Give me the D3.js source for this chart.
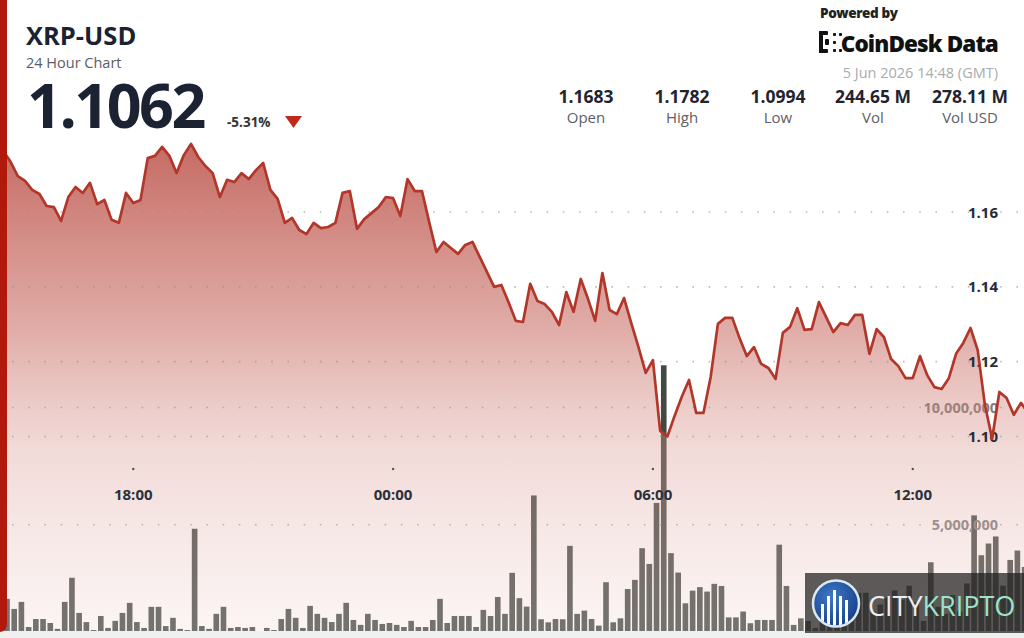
<!DOCTYPE html>
<html><head><meta charset="utf-8">
<script src="https://cdn.jsdelivr.net/npm/d3@7"></script>
<style>
html,body{margin:0;padding:0;background:#fff;overflow:hidden}
svg{display:block;font-family:"Open Sans",sans-serif}
</style></head><body>
<svg id="c" width="1024" height="638"></svg>
<script>
// ---------- DATA ----------
const pair = "XRP-USD";
const subtitle = "24 Hour Chart";
const lastPrice = "1.1062";
const changePct = "-5.31%";
const stampText = "5 Jun 2026 14:48 (GMT)";
const statValues = ["1.1683", "1.1782", "1.0994", "244.65 M", "278.11 M"];
const statLabels = ["Open", "High", "Low", "Vol", "Vol USD"];
const windowStart = "2026-06-04T14:48:00Z";
const windowEnd = "2026-06-05T14:48:00Z";
const firstPointTime = "2026-06-04T14:50:00Z";
const stepMinutes = 10;
const timeTicks = ["2026-06-04T18:00:00Z", "2026-06-05T00:00:00Z", "2026-06-05T06:00:00Z", "2026-06-05T12:00:00Z"];
const priceTicks = [1.10, 1.12, 1.14, 1.16];
const volumeTicksM = [5, 10];
const prices = [
1.1776,1.1763,1.1734,1.1696,1.1683,1.1659,1.1648,1.1616,1.1613,1.1576,
1.1640,1.1667,1.1651,1.1678,1.1621,1.1632,1.1579,1.1571,1.1651,1.1624,
1.1632,1.1744,1.1750,1.1774,1.1750,1.1704,1.1752,1.1782,1.1747,1.1723,
1.1704,1.1640,1.1686,1.1680,1.1704,1.1688,1.1712,1.1731,1.1659,1.1635,
1.1571,1.1584,1.1552,1.1541,1.1571,1.1557,1.1560,1.1571,1.1651,1.1656,
1.1555,1.1581,1.1597,1.1613,1.1640,1.1637,1.1589,1.1688,1.1656,1.1656,
1.1573,1.1493,1.1520,1.1504,1.1488,1.1512,1.1520,1.1480,1.1440,1.1400,
1.1405,1.1359,1.1309,1.1306,1.1408,1.1362,1.1354,1.1333,1.1298,1.1386,
1.1333,1.1421,1.1368,1.1309,1.1437,1.1338,1.1327,1.1370,1.1303,1.1239,
1.1170,1.1204,1.1015,1.1000,1.1055,1.1106,1.1151,1.1063,1.1063,1.1159,
1.1301,1.1317,1.1317,1.1263,1.1215,1.1239,1.1194,1.1183,1.1154,1.1277,
1.1293,1.1343,1.1285,1.1287,1.1359,1.1319,1.1279,1.1303,1.1298,1.1325,
1.1325,1.1221,1.1287,1.1266,1.1207,1.1188,1.1156,1.1156,1.1215,1.1164,
1.1132,1.1127,1.1156,1.1221,1.1250,1.1290,1.1231,1.1084,1.0994,1.1119,
1.1103,1.1058,1.1090,1.1062];
const volumeMillions = [
1.50,1.84,1.41,1.71,0.64,0.98,0.98,0.81,0.56,1.71,
2.74,1.24,0.85,0.51,1.11,0.60,0.90,1.24,1.67,0.85,
0.60,1.50,1.50,0.68,1.03,0.56,0.51,4.83,0.68,0.56,
1.20,1.50,0.60,0.64,0.60,0.64,0.30,0.60,0.51,0.98,
1.41,1.03,0.60,1.54,1.20,1.03,0.85,1.20,1.67,0.94,
0.73,1.20,0.94,0.77,0.81,0.73,0.64,0.90,0.64,0.64,
0.94,1.84,0.81,1.11,1.11,1.11,0.64,1.37,1.11,1.92,
1.20,2.95,1.87,1.51,6.25,0.97,0.84,0.98,0.97,4.10,
1.20,1.34,0.98,0.70,2.55,0.84,1.01,2.26,2.65,4.00,
3.33,5.93,11.80,3.79,2.96,1.65,2.19,2.34,2.15,2.48,
2.39,1.05,1.05,1.30,0.80,0.94,0.94,0.94,4.15,2.39,
0.73,1.01,0.90,0.60,1.20,0.80,1.00,0.70,1.50,2.10,
2.10,1.30,1.60,1.90,2.20,1.80,2.40,1.70,0.90,3.40,
1.50,1.20,2.00,1.30,2.50,5.40,3.70,4.20,4.50,2.40,
3.50,3.90,3.20,2.80];

// ---------- SETUP ----------
const svg = d3.select("#c");
const defs = svg.append("defs");
const stepMs = stepMinutes * 60000;
const t0 = new Date(firstPointTime).getTime();
const times = prices.map((_, i) => new Date(t0 + i * stepMs));

const x = d3.scaleUtc().domain([new Date(windowStart), new Date(windowEnd)]).range([-5.3, 1034]);
const yP = d3.scaleLinear().domain([1.10, 1.16]).range([436.5, 212]);
const yV = d3.scaleLinear().domain([0, 10]).range([642, 407.5]);

svg.append("rect").attr("width", 1024).attr("height", 638).attr("fill", "#fff");

defs.append("clipPath").attr("id", "plot").append("rect")
  .attr("x", 0).attr("y", 0).attr("width", 1024).attr("height", 631);

const grad = defs.append("linearGradient").attr("id", "areaGrad")
  .attr("gradientUnits", "userSpaceOnUse").attr("x1", 0).attr("y1", 140).attr("x2", 0).attr("y2", 642);
[[0, "#b5443a", 0.80], [0.38, "#c25a50", 0.50], [0.62, "#d99890", 0.35], [1, "#f4e0dd", 0.28]]
  .forEach(s => grad.append("stop").attr("offset", s[0]).attr("stop-color", s[1]).attr("stop-opacity", s[2]));

const plot = svg.append("g").attr("clip-path", "url(#plot)");

// volume bars
plot.append("g").selectAll("rect").data(volumeMillions).join("rect")
  .attr("x", (d, i) => x(new Date(t0 + i * stepMs)) + 0.8)
  .attr("width", (d, i) => x(new Date(t0 + (i + 1) * stepMs)) - x(new Date(t0 + i * stepMs)) - 1.6)
  .attr("y", d => yV(d))
  .attr("height", d => yV(0) - yV(d))
  .attr("fill", "#414944");

// volume labels
const fmtVol = d3.format(",");
plot.append("g").selectAll("text").data(volumeTicksM).join("text")
  .attr("x", 998).attr("y", d => yV(d) + 5)
  .attr("text-anchor", "end").attr("font-size", 14.5).attr("font-weight", 700)
  .attr("fill", "#7d7d7d").text(d => fmtVol(d * 1e6));

// price area
const area = d3.area().x((d, i) => x(times[i])).y0(642).y1(d => yP(d));
plot.append("path").datum(prices).attr("d", area).attr("fill", "url(#areaGrad)");

// dotted gridlines
const gridVals = priceTicks.map(v => yP(v)).concat(volumeTicksM.map(v => yV(v)));
plot.append("g").selectAll("line").data(gridVals).join("line")
  .attr("x1", 12).attr("x2", 1024).attr("y1", d => d).attr("y2", d => d)
  .attr("stroke", "#8f8f8f").attr("stroke-opacity", 0.6).attr("stroke-width", 1.6)
  .attr("stroke-dasharray", "1.6 14.6");

// price labels
plot.append("g").selectAll("text").data(priceTicks).join("text")
  .attr("x", 998).attr("y", d => yP(d) + 5.5)
  .attr("text-anchor", "end").attr("font-size", 15).attr("font-weight", 700)
  .attr("fill", "#262c38").text(d => d3.format(".2f")(d));

// price line
const line = d3.line().x((d, i) => x(times[i])).y(d => yP(d));
plot.append("path").datum(prices).attr("d", line)
  .attr("fill", "none").attr("stroke", "#b2372a").attr("stroke-width", 2.7)
  .attr("stroke-linejoin", "round");

// time axis
const tickDates = timeTicks.map(s => new Date(s));
const fmtT = d3.utcFormat("%H:%M");
const xAxis = svg.append("g");
xAxis.selectAll("circle").data(tickDates).join("circle")
  .attr("cx", d => x(d)).attr("cy", 469).attr("r", 1.2).attr("fill", "#555");
xAxis.selectAll("text").data(tickDates).join("text")
  .attr("x", d => x(d)).attr("y", 499.5).attr("text-anchor", "middle")
  .attr("font-size", 15).attr("font-weight", 700).attr("fill", "#2a303c")
  .text(d => fmtT(d));

// bottom strip & left red edge
svg.append("rect").attr("x", 0).attr("y", 631).attr("width", 1024).attr("height", 7).attr("fill", "#eef1f0");
svg.append("path").attr("d", "M0,0 H7 V624 Q7,631 0,632 Z").attr("fill", "#b0190c");

// ---------- HEADER ----------
const hdr = svg.append("g");
hdr.append("text").attr("x", 26).attr("y", 44.5).attr("font-size", 25.5).attr("font-weight", 700)
  .attr("fill", "#1b2232").text(pair);
hdr.append("text").attr("x", 26).attr("y", 67.5).attr("font-size", 14.5).attr("fill", "#5a5d63").text(subtitle);
hdr.append("text").attr("x", 27).attr("y", 127.5).attr("font-size", 61).attr("font-weight", 700)
  .attr("letter-spacing", -2.5).attr("fill", "#1b2232").text(lastPrice);
hdr.append("text").attr("x", 227).attr("y", 126.5).attr("font-size", 13.5).attr("font-weight", 700)
  .attr("fill", "#333").text(changePct);
hdr.append("path").attr("d", "M285,116 L302,116 L293.5,128 Z").attr("fill", "#c0281a");

const statX = [586, 682, 778, 873, 970];
hdr.append("g").selectAll("text").data(statValues).join("text")
  .attr("x", (d, i) => statX[i]).attr("y", 103).attr("text-anchor", "middle")
  .attr("font-size", 17.5).attr("font-weight", 700).attr("fill", "#1f2430").text(d => d);
hdr.append("g").selectAll("text").data(statLabels).join("text")
  .attr("x", (d, i) => statX[i]).attr("y", 123).attr("text-anchor", "middle")
  .attr("font-size", 15).attr("fill", "#5d6066").text(d => d);

hdr.append("text").attr("x", 820).attr("y", 18).attr("font-size", 13.5).attr("font-weight", 800)
  .attr("letter-spacing", -0.4).attr("fill", "#222").text("Powered by");
hdr.append("text").attr("x", 998).attr("y", 52).attr("text-anchor", "end").attr("font-size", 22.5)
  .attr("font-weight", 800).attr("letter-spacing", -0.9).attr("fill", "#111").text("CoinDesk Data");
// CoinDesk glyph
const logo = hdr.append("g").attr("fill", "#111");
[[819, 31, 4, 22], [819, 31, 9, 4], [819, 49, 9, 4], [825, 39, 4, 6], [833, 33, 3, 3], [833, 41, 3, 3], [833, 49, 3, 3], [839, 33, 3, 3], [839, 49, 3, 3]]
  .forEach(r => logo.append("rect").attr("x", r[0]).attr("y", r[1]).attr("width", r[2]).attr("height", r[3]).attr("rx", 1));
hdr.append("text").attr("x", 998).attr("y", 77.5).attr("text-anchor", "end").attr("font-size", 14.5)
  .attr("fill", "#a9abae").text(stampText);

// ---------- WATERMARK ----------
const wm = svg.append("g");
wm.append("rect").attr("x", 805).attr("y", 573).attr("width", 219).attr("height", 60).attr("fill", "#1e1e1e").attr("fill-opacity", 0.72);
const cg = defs.append("radialGradient").attr("id", "cityGrad").attr("cx", "40%").attr("cy", "35%").attr("r", "70%");
cg.append("stop").attr("offset", 0).attr("stop-color", "#3f78c9");
cg.append("stop").attr("offset", 1).attr("stop-color", "#163f86");
defs.append("clipPath").attr("id", "circ").append("circle").attr("cx", 836).attr("cy", 603.5).attr("r", 22);
wm.append("circle").attr("cx", 836).attr("cy", 603.5).attr("r", 23).attr("fill", "url(#cityGrad)")
  .attr("stroke", "#dde9f0").attr("stroke-width", 2.5);
const ic = wm.append("g").attr("clip-path", "url(#circ)").attr("fill", "#ffffff");
[[821, 604, 3], [827, 596, 3], [833, 590, 3], [839, 596, 3], [845, 600, 3]].forEach(b =>
  ic.append("rect").attr("x", b[0]).attr("y", b[1]).attr("width", b[2]).attr("height", 40));
wm.append("text").attr("x", 868).attr("y", 616).attr("font-size", 27).attr("font-weight", 500)
  .attr("letter-spacing", 0)
  .call(t => { t.append("tspan").attr("fill", "#eeeeee").text("CITY"); t.append("tspan").attr("fill", "#9be3cb").text("KRIPTO"); });
</script>
</body></html>
